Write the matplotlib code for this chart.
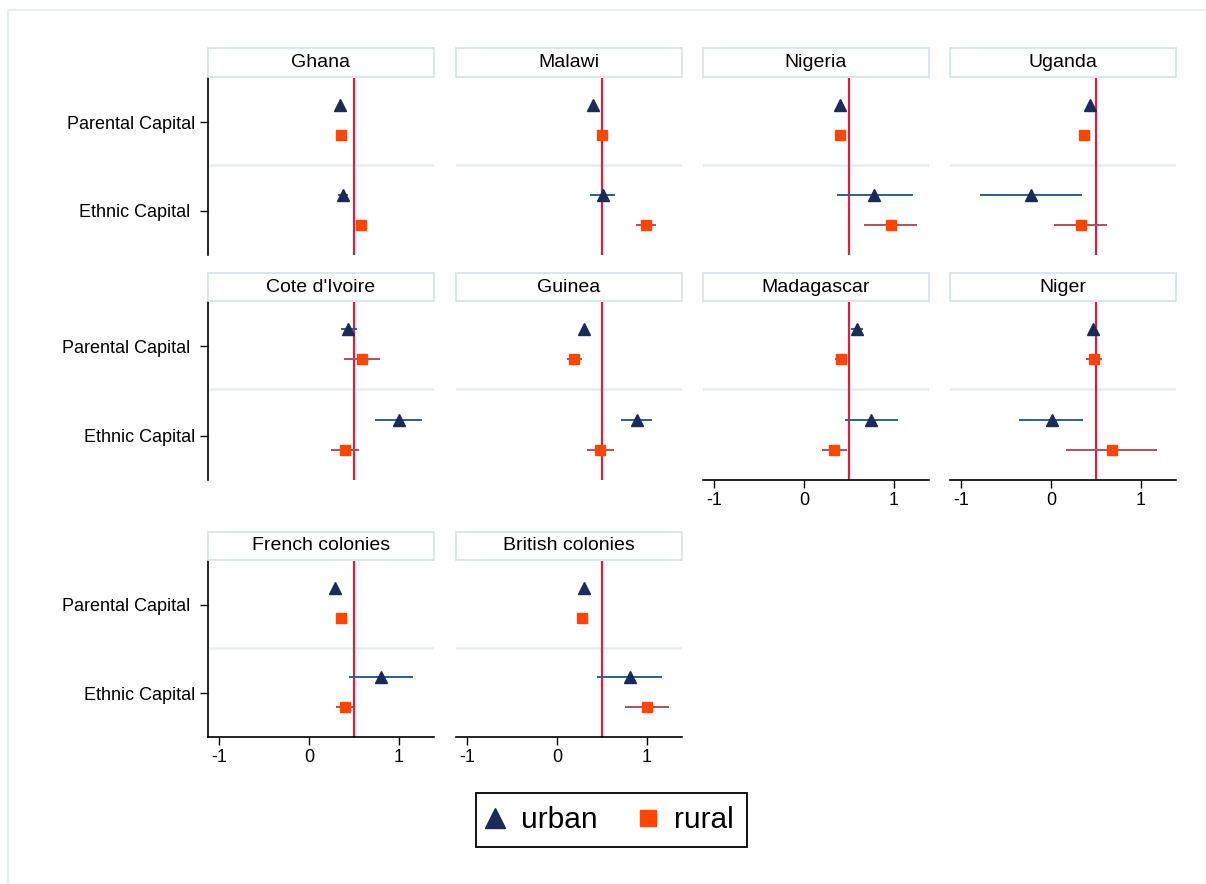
import matplotlib.pyplot as plt
from matplotlib.patches import Rectangle
from matplotlib.lines import Line2D

plt.rcParams['font.family'] = ['Liberation Sans', 'DejaVu Sans']

countries = ["Ghana", "Malawi", "Nigeria", "Uganda",
             "Cote d'Ivoire", "Guinea", "Madagascar", "Niger",
             "French colonies", "British colonies"]
categories = ["Parental Capital", "Ethnic Capital"]

# point estimates and confidence bounds, urban / rural
urban_par = [0.35, 0.40, 0.40, 0.43, 0.44, 0.30, 0.59, 0.47, 0.29, 0.30]
urban_par_lo = [0.33, 0.38, 0.38, 0.41, 0.36, 0.28, 0.52, 0.45, 0.27, 0.28]
urban_par_hi = [0.37, 0.42, 0.42, 0.45, 0.53, 0.32, 0.66, 0.49, 0.31, 0.32]
rural_par = [0.36, 0.50, 0.40, 0.37, 0.59, 0.19, 0.41, 0.48, 0.36, 0.28]
rural_par_lo = [0.34, 0.48, 0.35, 0.35, 0.39, 0.11, 0.35, 0.39, 0.34, 0.23]
rural_par_hi = [0.38, 0.52, 0.45, 0.39, 0.79, 0.28, 0.47, 0.57, 0.38, 0.33]
urban_eth = [0.38, 0.51, 0.78, -0.22, 1.00, 0.89, 0.75, 0.01, 0.80, 0.81]
urban_eth_lo = [0.32, 0.37, 0.37, -0.79, 0.74, 0.71, 0.46, -0.35, 0.45, 0.45]
urban_eth_hi = [0.44, 0.65, 1.21, 0.35, 1.26, 1.06, 1.05, 0.36, 1.16, 1.17]
rural_eth = [0.58, 0.99, 0.97, 0.33, 0.40, 0.48, 0.34, 0.68, 0.40, 1.00]
rural_eth_lo = [0.56, 0.88, 0.67, 0.03, 0.25, 0.34, 0.20, 0.17, 0.30, 0.76]
rural_eth_hi = [0.60, 1.10, 1.26, 0.62, 0.56, 0.63, 0.48, 1.18, 0.49, 1.25]
ref_line = 0.5
xticks = [-1, 0, 1]

navy = '#1c2b56'
orange = '#ff4500'
urban_ci = '#2f5f8f'
rural_ci = '#b0505c'
red = '#d81f48'

W, H = 1206, 884
fig = plt.figure(figsize=(W / 100, H / 100), dpi=100)


def frect(x0, y0, x1, y1):
    return [x0 / W, 1 - y1 / H, (x1 - x0) / W, (y1 - y0) / H]


# outer graph region border
fig.add_artist(Rectangle((8 / W, -0.1), 1.2, 1 - 10 / H + 0.1, transform=fig.transFigure,
                         fill=False, edgecolor='#e6eef0', lw=1.5))

col_x = [208, 456, 703, 950]
pw = 226
row_y = [(78, 255), (302, 480), (561, 737)]
title_y = [(48, 77), (273, 301), (532, 560)]
grid = [(0, 0), (0, 1), (0, 2), (0, 3), (1, 0), (1, 1), (1, 2), (1, 3), (2, 0), (2, 1)]
bottom_panels = {6, 7, 8, 9}
# gap between label and tick differs per row
label_pads = [(3, 7), (7, 3), (7, 3)]

for i, name in enumerate(countries):
    r, c = grid[i]
    x0 = col_x[c]
    y0, y1 = row_y[r]
    ax = fig.add_axes(frect(x0, y0, x0 + pw, y1))

    ax.axvline(ref_line, color=red, lw=1.6, zorder=1)
    ax.axhline(3, color='#e8edf1', lw=1.8, zorder=0)
    ax.hlines([1, 4], [urban_par_lo[i], urban_eth_lo[i]], [urban_par_hi[i], urban_eth_hi[i]],
              color=urban_ci, lw=1.4, zorder=2)
    ax.hlines([2, 5], [rural_par_lo[i], rural_eth_lo[i]], [rural_par_hi[i], rural_eth_hi[i]],
              color=rural_ci, lw=1.4, zorder=2)
    ax.plot([urban_par[i], urban_eth[i]], [1, 4], '^', color=navy, ms=8.5, mec=navy, zorder=3)
    ax.plot([rural_par[i], rural_eth[i]], [2, 5], 's', color=orange, ms=7.2, mec=orange, zorder=3)

    ax.set_xlim(-1.12, 1.39)
    ax.set_ylim(6, 0.1)
    for s in ax.spines.values():
        s.set_visible(False)
    ax.set_xticks(xticks)
    ax.set_xticklabels([str(t) for t in xticks])
    if i in bottom_panels:
        ax.spines['bottom'].set_visible(True)
        ax.spines['bottom'].set_linewidth(1.2)
        ax.tick_params(axis='x', length=6, width=1, pad=3, labelsize=13)
    else:
        ax.tick_params(axis='x', bottom=False, labelbottom=False)

    ax.set_yticks([1.57, 4.53])
    if c == 0:
        ax.set_yticklabels(categories)
        ax.spines['left'].set_visible(True)
        ax.spines['left'].set_linewidth(1.2)
        ax.tick_params(axis='y', length=6, width=1, labelsize=13)
        for tk, pad in zip(ax.yaxis.get_major_ticks(), label_pads[r]):
            tk.set_pad(pad)
    else:
        ax.tick_params(axis='y', left=False, labelleft=False)

    ty0, ty1 = title_y[r]
    fig.add_artist(Rectangle((x0 / W, 1 - ty1 / H), pw / W, (ty1 - ty0) / H,
                             transform=fig.transFigure, facecolor='white',
                             edgecolor='#d5e1e8', lw=1.2))
    fig.text((x0 + pw / 2) / W, 1 - (ty0 + ty1) / 2 / H, name, ha='center', va='center',
             fontsize=14)

handles = [Line2D([], [], marker='^', ls='none', color=navy, ms=14),
           Line2D([], [], marker='s', ls='none', color=orange, ms=12)]
leg = fig.legend(handles, ['urban', 'rural'], ncol=2, loc='center',
                 bbox_to_anchor=(611.5 / W, 1 - 820 / H), fontsize=21.5,
                 frameon=True, fancybox=False, edgecolor='black', framealpha=1,
                 handlelength=0.4, handletextpad=0.67, columnspacing=1.5, borderpad=0.45)
leg.get_frame().set_linewidth(1.3)

fig.savefig('out.png', dpi=100)
